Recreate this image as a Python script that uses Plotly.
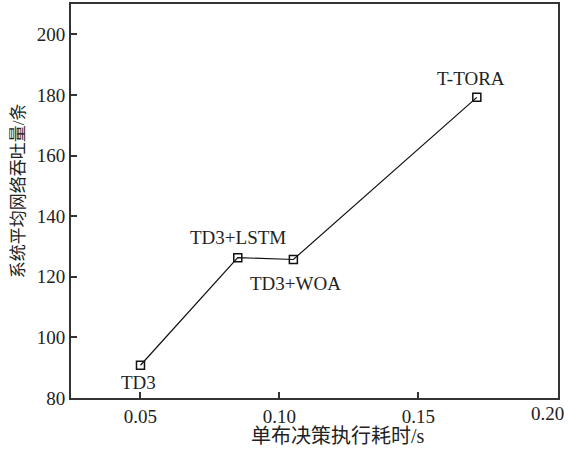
import plotly.graph_objects as go

methods = ["TD3", "TD3+LSTM", "TD3+WOA", "T-TORA"]
exec_time = [0.050, 0.085, 0.105, 0.171]
throughput = [90.8, 126.3, 125.7, 179.2]
label_dx = [-2, 0, 2, -6]
label_dy = [-17, 20, -24, 19]

x_ticks = [0.05, 0.10, 0.15, 0.20]
y_ticks = [80, 100, 120, 140, 160, 180, 200]

FONT = "Liberation Serif, Times New Roman, Noto Sans CJK SC, serif"
TXT = "#222"

fig = go.Figure()
fig.add_trace(go.Scatter(
    x=exec_time, y=throughput, mode="lines+markers",
    line=dict(color="#111", width=1.2),
    marker=dict(symbol="square-open", size=8, color="#111", line=dict(width=1.5)),
    showlegend=False, cliponaxis=False,
))

for m, x, y, dx, dy in zip(methods, exec_time, throughput, label_dx, label_dy):
    fig.add_annotation(x=x, y=y, text=m, showarrow=False, xshift=dx, yshift=dy,
                       xanchor="center", yanchor="middle",
                       font=dict(family=FONT, size=19, color=TXT))

axis_common = dict(
    showline=True, linecolor="#333", linewidth=2, mirror=True,
    ticks="inside", ticklen=6, tickcolor="#333", tickwidth=1.5,
    showgrid=False, zeroline=False, automargin=False,
    tickfont=dict(family=FONT, size=19, color=TXT),
)

# last x tick label sits at the right edge of the figure: draw it anchored
# to the data value, nudged inward so it stays inside the page
x_ticktext = [f"{v:.2f}" for v in x_ticks[:-1]] + [""]

fig.update_layout(
    width=568, height=451,
    margin=dict(l=71, r=10, t=4, b=53),
    paper_bgcolor="white", plot_bgcolor="white",
    xaxis=dict(range=[0.025, 0.2002], tickvals=x_ticks,
               ticktext=x_ticktext, **axis_common),
    yaxis=dict(range=[80, 210], tickvals=y_ticks, **axis_common),
)

fig.add_annotation(x=x_ticks[-1], xref="x", yref="paper", y=0, yshift=-15,
                   xanchor="right", yanchor="middle", xshift=9,
                   text=f"{x_ticks[-1]:.2f}", showarrow=False,
                   font=dict(family=FONT, size=19, color=TXT))

fig.add_annotation(xref="paper", yref="paper", x=0.5, y=0, xshift=23, yshift=-38,
                   xanchor="center", yanchor="middle",
                   text="单布决策执行耗时/s", showarrow=False,
                   font=dict(family=FONT, size=20, color=TXT))
fig.add_annotation(xref="paper", yref="paper", x=0, y=0.525, xshift=-53,
                   xanchor="center", yanchor="middle",
                   text="系统平均网络吞吐量/条", showarrow=False, textangle=-90,
                   font=dict(family=FONT, size=17, color=TXT))

fig.write_html("out.html", config={"displayModeBar": False},
               post_script="document.body.style.margin='0';document.body.style.overflow='hidden';")
